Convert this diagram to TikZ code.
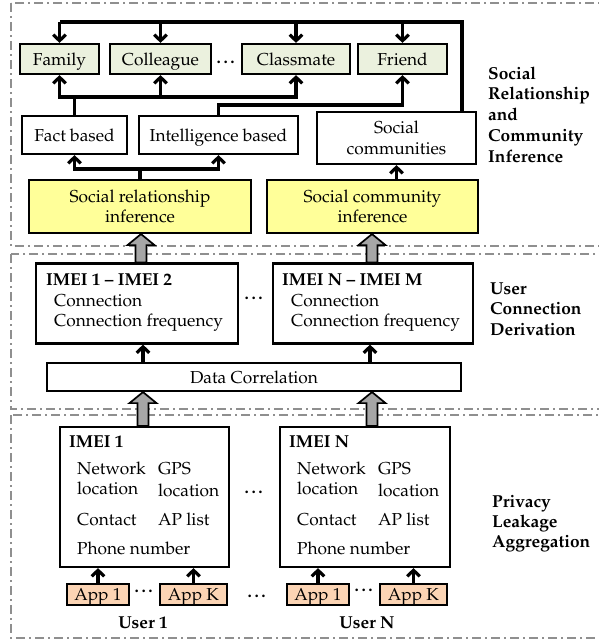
\documentclass[tikz,border=0pt]{standalone}
\usepackage[T1]{fontenc}
\usepackage{mathpazo}
\usetikzlibrary{arrows.meta,calc}

\definecolor{catfill}{HTML}{EBF1DE}
\definecolor{inffill}{HTML}{FFFF99}
\definecolor{appfill}{HTML}{FBD4B4}
\definecolor{zonegray}{HTML}{8F8F8F}
\definecolor{fatgray}{HTML}{A6A6A6}

\newcommand\fatarrow[3]{% #1 column coordinate, #2 lower node, #3 upper node
  \draw[fat] let \p1=(#2.north -| #1), \p2=(#3.south -| #1) in
    (\x1-5.5pt,\y1) -- (\x1-5.5pt,\y2-11pt) -- (\x1-13.5pt,\y2-11pt) -- (\x1,\y2)
    -- (\x1+13.5pt,\y2-11pt) -- (\x1+5.5pt,\y2-11pt) -- (\x1+5.5pt,\y1) -- cycle;}

\begin{document}
\begin{tikzpicture}[x=1pt,y=-1pt,
  font=\fontsize{17.3}{20.5}\selectfont,
  box/.style={draw, line width=2.2pt, inner sep=0pt, align=center},
  oneline/.style={text height=12pt, text depth=0pt},
  cat/.style={box, oneline, fill=catfill, minimum height=30pt},
  inf/.style={box, fill=inffill, minimum height=53pt},
  app/.style={box, oneline, fill=appfill, minimum height=21pt, line width=1.9pt},
  conn/.style={line width=3.2pt},
  bus/.style={conn, line cap=rect},
  arr/.style={conn, -{Straight Barb[length=6pt,width=12.5pt]}},
  fat/.style={draw=black, fill=fatgray, line width=1.7pt, line join=miter},
  zone/.style={draw=zonegray, line width=1.7pt, dash pattern=on 9pt off 4pt on 2pt off 4pt},
  lab/.style={font=\fontsize{17.3}{20.5}\selectfont\bfseries, inner sep=0pt},
  txt/.style={inner sep=0pt},
  dots/.style={inner sep=0pt, font=\fontsize{17.3}{20.5}\selectfont\bfseries}]

\useasboundingbox (0,0) rectangle (598,640);

% layer zones
\draw[zone] (11,3) rectangle (620,246);
\draw[zone] (11,254) rectangle (620,409);
\draw[zone] (11,415) rectangle (620,638);

% helper rows and columns
\coordinate (busT) at (0,22);
\coordinate (busF) at (0,97);
\coordinate (busI) at (0,105);
\coordinate (busS) at (0,169);
\coordinate (xR) at (462,0);
\coordinate (xa) at (141,0);
\coordinate (xb) at (372,0);
\coordinate (xc) at (143,0);
\coordinate (xd) at (370,0);

% ---------- social relationship and community inference ----------
\node[cat, minimum width=79pt]  (family)    at (59.5,59) {Family};
\node[cat, minimum width=101pt] (colleague) at (160.5,59) {Colleague};
\node[cat, minimum width=108pt] (classmate) at (296,59) {Classmate};
\node[cat, minimum width=89pt]  (friend)    at (402.5,59) {Friend};
\node[dots] (dtop) at (227,62) {\ldots};

\node[box, oneline, minimum width=105pt, minimum height=38pt] (fact)  at (74.5,135) {Fact based};
\node[box, oneline, minimum width=159pt, minimum height=38pt] (intel) at (218.5,135) {Intelligence based};
\node[box, minimum width=159pt, minimum height=52pt] (socomm) at (396.5,138) {Social\\communities};

\node[inf, minimum width=222pt] (sri) at (140,206.5) {Social relationship\\inference};
\node[inf, minimum width=211pt] (sci) at (372.5,206.5) {Social community\\inference};

% communities feed every category
\draw[conn, line width=3.8pt, line join=miter] (socomm.north -| xR) -- (xR |- busT) -- (family.north |- busT);
\draw[arr] (family.north |- busT) -- (family.north);
\draw[arr] (colleague.north |- busT) -- (colleague.north);
\draw[arr] (classmate.north |- busT) -- (classmate.north);
\draw[arr] (friend.north |- busT) -- (friend.north);

% fact based relations
\draw[bus] (family.south |- busF) -- (classmate.south |- busF);
\draw[conn] (fact.north) -- (fact.north |- busF);
\draw[arr] (family.south |- busF) -- (family.south);
\draw[arr] (colleague.south |- busF) -- (colleague.south);
\draw[arr] (classmate.south |- busF) -- (classmate.south);

% intelligence based relations
\draw[arr, line join=miter] (intel.north) -- (intel.north |- busI) -| (friend.south);

% inference outputs
\draw[conn] (sri.north) -- (sri.north |- busS);
\draw[bus] (fact.south |- busS) -- (intel.south |- busS);
\draw[arr] (fact.south |- busS) -- (fact.south);
\draw[arr] (intel.south |- busS) -- (intel.south);
\draw[arr] (sci.north -| socomm.south) -- (socomm.south);

\foreach \t [count=\i] in {Social,Relationship,and,Community,Inference}
  \node[lab, anchor=base west] (labA\i) at (488,{79+20.75*(\i-1)}) {\t};

% ---------- user connection derivation ----------
\node[box, minimum width=202pt, minimum height=80pt] (imei12) at (137,303.5) {};
\node[box, minimum width=200pt, minimum height=80pt] (imeiNM) at (373,303.5) {};
\node[txt, anchor=base west, font=\fontsize{17.3}{20.5}\selectfont\bfseries] (t12a) at (46,285) {IMEI 1 -- IMEI 2};
\node[txt, anchor=base west] (t12b) at (54,306) {Connection};
\node[txt, anchor=base west] (t12c) at (54,326) {Connection frequency};
\node[txt, anchor=base west, font=\fontsize{17.3}{20.5}\selectfont\bfseries] (tNMa) at (282,285) {IMEI N -- IMEI M};
\node[txt, anchor=base west] (tNMb) at (291,306) {Connection};
\node[txt, anchor=base west] (tNMc) at (291,326) {Connection frequency};
\node[dots] (dmid) at (255,298) {\ldots};

\node[box, oneline, minimum width=414pt, minimum height=28pt] (dc) at (254,377) {Data Correlation};
\draw[arr] (dc.north -| xc) -- (imei12.south -| xc);
\draw[arr] (dc.north -| xd) -- (imeiNM.south -| xd);

\foreach \t [count=\i] in {User,Connection,Derivation}
  \node[lab, anchor=base west] (labB\i) at (490,{294+20.5*(\i-1)}) {\t};

% ---------- privacy leakage aggregation ----------
\node[box, minimum width=169pt, minimum height=140pt] (imei1) at (144.5,497) {};
\node[box, minimum width=170pt, minimum height=140pt] (imeiN) at (365,497) {};

\node[txt, anchor=base west, font=\fontsize{17.3}{20.5}\selectfont\bfseries] (i1a) at (69,447) {IMEI 1};
\node[txt, anchor=base west] (i1b) at (77,474) {Network};
\node[txt, anchor=base west] (i1c) at (77,494) {location};
\node[txt, anchor=base west] (i1d) at (158,474) {GPS};
\node[txt, anchor=base west] (i1e) at (158,496) {location};
\node[txt, anchor=base west] (i1f) at (77,525) {Contact};
\node[txt, anchor=base west] (i1g) at (158,525) {AP list};
\node[txt, anchor=base west] (i1h) at (77,554) {Phone number};

\node[txt, anchor=base west, font=\fontsize{17.3}{20.5}\selectfont\bfseries] (iNa) at (289,447) {IMEI N};
\node[txt, anchor=base west] (iNb) at (297,474) {Network};
\node[txt, anchor=base west] (iNc) at (297,494) {location};
\node[txt, anchor=base west] (iNd) at (378,474) {GPS};
\node[txt, anchor=base west] (iNe) at (378,496) {location};
\node[txt, anchor=base west] (iNf) at (297,525) {Contact};
\node[txt, anchor=base west] (iNg) at (378,525) {AP list};
\node[txt, anchor=base west] (iNh) at (297,554) {Phone number};
\node[dots] (dimei) at (255,492) {\ldots};

\node[app, minimum width=62pt] (a11) at (98,594.5) {App 1};
\node[app, minimum width=67pt] (a1k) at (193.5,594.5) {App K};
\node[app, minimum width=62pt] (aN1) at (318,594.5) {App 1};
\node[app, minimum width=67pt] (aNk) at (413.5,594.5) {App K};
\node[dots] (dapp1) at (145,591) {\ldots};
\node[dots] (dappN) at (365,590) {\ldots};
\node[dots] (dusers) at (258,596) {\ldots};

\draw[arr] (a11.north) -- (a11.north |- imei1.south);
\draw[arr] (a1k.north) -- (a1k.north |- imei1.south);
\draw[arr] (aN1.north) -- (aN1.north |- imeiN.south);
\draw[arr] (aNk.north) -- (aNk.north |- imeiN.south);

\node[lab] (user1) at (143,622.5) {User 1};
\node[lab] (userN) at (367,622.5) {User N};

\foreach \t [count=\i] in {Privacy,Leakage,Aggregation}
  \node[lab, anchor=base west] (labC\i) at (492,{507+20*(\i-1)}) {\t};

% ---------- thick arrows between layers ----------
\fatarrow{xa}{imei12}{sri}
\fatarrow{xb}{imeiNM}{sci}
\fatarrow{xc}{imei1}{dc}
\fatarrow{xb}{imeiN}{dc}

\end{tikzpicture}
\end{document}
